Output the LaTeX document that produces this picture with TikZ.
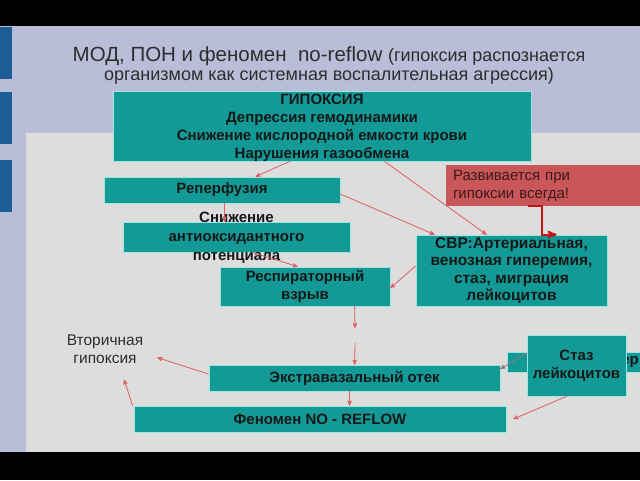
\documentclass[tikz,border=0pt]{standalone}
\usepackage{fontspec}
\setmainfont{Liberation Sans}
\usetikzlibrary{arrows,positioning}

\definecolor{boxteal}{RGB}{20,154,150}
\definecolor{boxedge}{RGB}{160,228,226}
\definecolor{notered}{RGB}{201,86,88}
\definecolor{notetext}{RGB}{60,25,25}
\definecolor{linkred}{RGB}{226,92,96}
\definecolor{linkgray}{RGB}{150,120,120}
\definecolor{elbowred}{RGB}{196,20,20}
\definecolor{panelgray}{RGB}{221,221,221}
\definecolor{slidebg}{RGB}{185,189,216}
\definecolor{barblue}{RGB}{30,92,150}
\definecolor{textdark}{RGB}{20,24,24}
\definecolor{titlegray}{RGB}{45,45,45}

\begin{document}
\begin{tikzpicture}[x=1pt,y=-1pt,>=stealth',
    box/.style={draw=boxedge,fill=boxteal,line width=0.8pt,inner sep=0pt,
      text=textdark,align=center,font=\bfseries\fontsize{15}{18.5}\selectfont},
    plain/.style={inner sep=0pt,align=center,text=titlegray,
      font=\fontsize{15.5}{18}\selectfont}]
  \tikzstyle{every edge}=[draw=linkred,line width=0.8pt,->]

  % slide background
  \useasboundingbox (0,0) rectangle (640,480);
  \fill[black] (0,0) rectangle (640,480);
  \fill[slidebg] (0,26) rectangle (640,452);
  \fill[panelgray] (26,133) rectangle (640,452);
  \foreach \y in {27,92,160}
    \fill[barblue] (0,\y) rectangle (12,\y+52);

  % title
  \node[plain,font=\fontsize{20.5}{24}\selectfont] (title1) at (329,56)
    {МОД, ПОН и феномен\ \ no-reflow {\fontsize{18}{20}\selectfont(гипоксия распознается}};
  \node[plain,font=\fontsize{18}{20}\selectfont] (title2) at (329,76)
    {организмом как системная воспалительная агрессия)};

  % boxes
  \node[box,minimum width=418pt,minimum height=70pt] (hyp) at (322,126) {};
  \node[plain,text=textdark,font=\bfseries\fontsize{15}{18}\selectfont]
                                                     (hypt) at (322,128)
    {ГИПОКСИЯ\\Депрессия гемодинамики\\Снижение кислородной емкости крови\\Нарушения газообмена};
  \node[box,minimum width=236pt,minimum height=26pt] (rep)  at (222,190)   {Реперфузия};
  \node[box,minimum width=227pt,minimum height=30pt] (sniz) at (236.5,237) {};
  \node[plain,text=textdark,font=\bfseries\fontsize{15}{19}\selectfont]
                                                     (snizt) at (236.5,237.5)
    {Снижение\\антиоксидантного\\потенциала};
  \node[box,minimum width=170pt,minimum height=39pt] (resp) at (305,286.5) {Респираторный\\взрыв};
  \node[box,minimum width=191pt,minimum height=71pt,font=\bfseries\fontsize{15.5}{17.5}\selectfont]
                                                     (svr)  at (511.5,270.5)
    {СВР:Артериальная,\\венозная гиперемия,\\стаз, миграция\\лейкоцитов};
  \node[fill=notered,minimum width=199pt,minimum height=41pt,text width=185pt,
        align=left,inner sep=0pt,text=notetext,font=\fontsize{15}{18}\selectfont]
                                                     (note) at (545.5,185.5)
    {Развивается при\\гипоксии всегда!};
  \node[box,minimum width=143pt,minimum height=20pt] (hyper) at (578.5,362) {};
  \node[plain,anchor=east,text=textdark,font=\bfseries\fontsize{15}{18}\selectfont]
                                                     (hypert) at (639,362) {ер};
  \node[box,minimum width=99pt,minimum height=61pt]  (stas) at (576.5,365.5) {Стаз\\лейкоцитов};
  \node[box,minimum width=291pt,minimum height=26pt] (ext)  at (354.5,378) {Экстравазальный отек};
  \node[box,minimum width=372pt,minimum height=26pt] (nrf)  at (320,419)   {Феномен NO - REFLOW};
  \node[plain] (sec) at (105,349) {Вторичная\\гипоксия};

  \coordinate (gapt) at (355,328);
  \coordinate (gapb) at (355,343);

  % connectors
  \path ([xshift=177pt]hyp.south west)  edge ([xshift=152pt]rep.north west)
        ([xshift=272pt]hyp.south west)  edge ([xshift=71pt]svr.north west)
        ([yshift=-4pt]rep.east)         edge ([xshift=19pt]svr.north west)
        ([xshift=121pt]rep.south west)  edge ([xshift=102pt]sniz.north west)
        ([xshift=130pt]sniz.south west) edge ([xshift=78pt]resp.north west)
        ([yshift=4.5pt]svr.west)        edge ([yshift=-1.5pt]resp.east)
        ([xshift=135pt]resp.south west) edge (gapt)
        (gapb)                          edge ([xshift=146pt]ext.north west)
        ([xshift=141pt]ext.south west)  edge ([xshift=216pt]nrf.north west)
        ([yshift=4pt]ext.west)          edge ([xshift=14pt,yshift=6pt]sec.south east)
        ([xshift=-1pt]nrf.north west)   edge ([xshift=19pt,yshift=-16pt]sec.south)
        ([yshift=12.5pt]stas.west)      edge[draw=linkgray] ([yshift=9pt]ext.east)
        ([xshift=40pt]stas.south west)  edge ([xshift=7pt]nrf.east);

  \draw[elbowred,line width=2pt,->] ([xshift=82pt]note.south west) -- ++(14,0)
    |- ([xshift=141pt]svr.north west);
\end{tikzpicture}
\end{document}
